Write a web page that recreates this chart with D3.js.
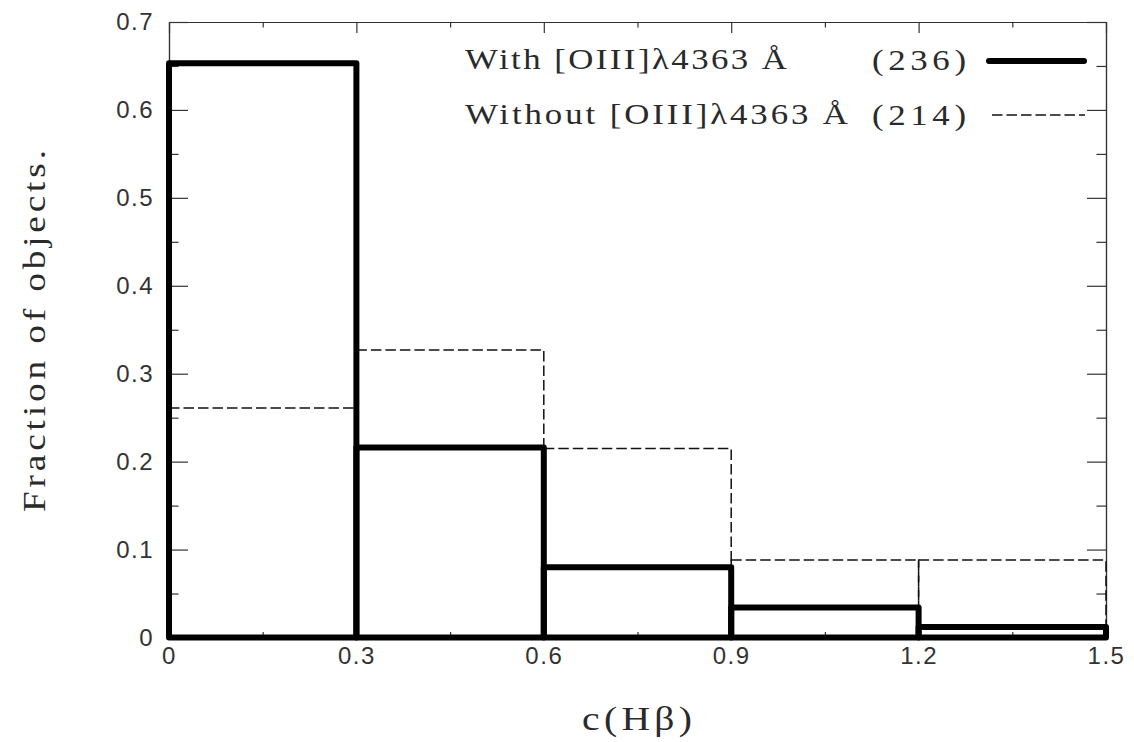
<!DOCTYPE html>
<meta charset="utf-8">
<script src="https://d3js.org/d3.v7.min.js"></script>
<style>
  body { margin: 0; background: #fff; }
  .tick text { font-family: "Liberation Sans", "DejaVu Sans", sans-serif; font-size: 24px; fill: #333; letter-spacing: 1.5px; }
  .tick line, .domain { stroke: #333; stroke-width: 1.2; }
  .lbl { font-family: "Liberation Serif", "DejaVu Serif", serif; fill: #2a2a2a; }
</style>
<div id="my_dataviz"></div>
<script>

// bin edges along c(Hbeta)
var binEdges = [0, 0.3, 0.6, 0.9, 1.2, 1.5];
// fraction of objects in each bin
var withOIII    = [0.653, 0.216, 0.080, 0.034, 0.012];
var withoutOIII = [0.261, 0.327, 0.215, 0.088, 0.088];

var xMajor = [0, 0.3, 0.6, 0.9, 1.2, 1.5];
var xMinor = [0.15, 0.45, 0.75, 1.05, 1.35];
var yMajor = [0, 0.1, 0.2, 0.3, 0.4, 0.5, 0.6, 0.7];
var yMinor = [0.05, 0.15, 0.25, 0.35, 0.45, 0.55, 0.65];

var legendLabels = ["With [OIII]\u03bb4363 \u00c5", "Without [OIII]\u03bb4363 \u00c5"];
var legendCounts = ["(236)", "(214)"];

var W = 1134, H = 742;
var mLeft = 169, mRight = 1106, mTop = 22, mBottom = 637.5;

var svg = d3.select("#my_dataviz")
  .append("svg")
    .attr("width", W)
    .attr("height", H);

var x = d3.scaleLinear().domain([0, 1.5]).range([mLeft, mRight]);
var y = d3.scaleLinear().domain([0, 0.7]).range([mBottom, mTop]);

var fmt = function(d) { return d === 0 ? "0" : d3.format(".1f")(d); };

// bottom axis (labels + major ticks pointing in)
svg.append("g")
  .attr("transform", "translate(0," + mBottom + ")")
  .call(d3.axisBottom(x).tickValues(xMajor).tickSizeInner(-11).tickSizeOuter(0).tickPadding(9).tickFormat(fmt));
svg.append("g")
  .attr("transform", "translate(0," + mBottom + ")")
  .call(d3.axisBottom(x).tickValues(xMinor).tickSizeInner(-5.5).tickSizeOuter(0).tickFormat(""));

// top axis
svg.append("g")
  .attr("transform", "translate(0," + mTop + ")")
  .call(d3.axisTop(x).tickValues(xMajor).tickSizeInner(-11).tickSizeOuter(0).tickFormat(""));
svg.append("g")
  .attr("transform", "translate(0," + mTop + ")")
  .call(d3.axisTop(x).tickValues(xMinor).tickSizeInner(-5.5).tickSizeOuter(0).tickFormat(""));

// left axis
svg.append("g")
  .attr("transform", "translate(" + mLeft + ",0)")
  .call(d3.axisLeft(y).tickValues(yMajor).tickSizeInner(-19).tickSizeOuter(0).tickPadding(15).tickFormat(fmt));
svg.append("g")
  .attr("transform", "translate(" + mLeft + ",0)")
  .call(d3.axisLeft(y).tickValues(yMinor).tickSizeInner(-9.5).tickSizeOuter(0).tickFormat(""));

// right axis
svg.append("g")
  .attr("transform", "translate(" + mRight + ",0)")
  .call(d3.axisRight(y).tickValues(yMajor).tickSizeInner(-19).tickSizeOuter(0).tickFormat(""));
svg.append("g")
  .attr("transform", "translate(" + mRight + ",0)")
  .call(d3.axisRight(y).tickValues(yMinor).tickSizeInner(-9.5).tickSizeOuter(0).tickFormat(""));

// dashed histogram (without)
svg.selectAll("rect.without")
  .data(withoutOIII)
  .enter()
  .append("rect")
    .attr("class", "without")
    .attr("x", function(d, i) { return x(binEdges[i]); })
    .attr("width", function(d, i) { return x(binEdges[i + 1]) - x(binEdges[i]); })
    .attr("y", function(d) { return y(d); })
    .attr("height", function(d) { return y(0) - y(d); })
    .attr("fill", "none")
    .attr("stroke", "#111")
    .attr("stroke-width", 1.5)
    .attr("stroke-dasharray", "10.5,4");

// thick histogram (with)
svg.selectAll("rect.with")
  .data(withOIII)
  .enter()
  .append("rect")
    .attr("class", "with")
    .attr("x", function(d, i) { return x(binEdges[i]); })
    .attr("width", function(d, i) { return x(binEdges[i + 1]) - x(binEdges[i]); })
    .attr("y", function(d) { return y(d); })
    .attr("height", function(d) { return y(0) - y(d); })
    .attr("fill", "none")
    .attr("stroke", "#000")
    .attr("stroke-width", 6)
    .attr("stroke-linejoin", "round");

// wide serif text: glyphs stretched horizontally, then fitted to a length
function wideText(g, str, tx, ty, size, len, rot) {
  var sx = 1.2;
  var t = g.append("g")
    .attr("transform", "translate(" + tx + "," + ty + ")" + (rot ? " rotate(" + rot + ")" : "") + " scale(" + sx + ",1)");
  t.append("text")
    .attr("class", "lbl")
    .attr("font-size", size)
    .attr("textLength", len / sx)
    .attr("lengthAdjust", "spacing")
    .text(str);
}

// legend
var legY = [68.5, 123.5];
var legLen = [322, 383];
legendLabels.forEach(function(t, i) {
  wideText(svg, t, 465, legY[i], 29, legLen[i]);
  wideText(svg, legendCounts[i], 872, legY[i] + 1.5, 29, 94);
});
svg.append("line")
  .attr("x1", 989).attr("x2", 1084)
  .attr("y1", 61).attr("y2", 61)
  .attr("stroke", "#000").attr("stroke-width", 6).attr("stroke-linecap", "round");
svg.append("line")
  .attr("x1", 992).attr("x2", 1085)
  .attr("y1", 115).attr("y2", 115)
  .attr("stroke", "#111").attr("stroke-width", 1.5).attr("stroke-dasharray", "10.5,4");

// axis titles
wideText(svg, "c(H\u03b2)", 582, 730, 33, 110);
wideText(svg, "Fraction of objects.", 45, 512, 31, 362, -90);

</script>
